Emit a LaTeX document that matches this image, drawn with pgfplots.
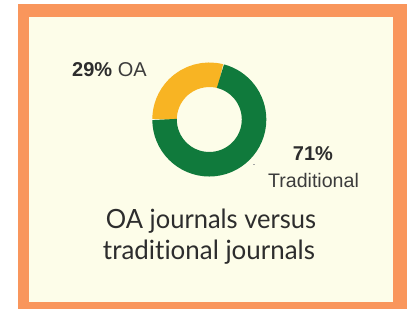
\documentclass[border=0pt]{standalone}
\usepackage{pgfplots}
\pgfplotsset{compat=1.18}
\usepackage{pgfplotstable}
\usepackage{graphicx}
\usepackage{fontspec}
\setmainfont{Liberation Sans}
\newfontfamily\titlefont[Ligatures=NoCommon]{Lato}

\definecolor{borderorange}{RGB}{249,150,92}
\definecolor{bgcream}{RGB}{253,253,233}
\definecolor{oayellow}{RGB}{248,180,35}
\definecolor{tradgreen}{RGB}{16,122,60}
\definecolor{txt}{RGB}{45,45,45}
\definecolor{txtlight}{RGB}{60,60,60}

\pgfplotstableread{
label value
OA 29
Traditional 71
}\sharetable

\begin{document}
\begin{tikzpicture}
\pgfplotstablegetelem{0}{value}\of\sharetable \let\oashare\pgfplotsretval
\pgfplotstablegetelem{1}{value}\of\sharetable \let\tradshare\pgfplotsretval
\pgfmathsetmacro{\oastart}{180-3.6*\oashare}
\pgfmathsetmacro{\tradend}{180+3.6*\tradshare}
\pgfmathsetmacro{\cx}{209.3}
\pgfmathsetmacro{\cy}{189.5}
\pgfmathsetmacro{\rmid}{44.75}
\pgfmathsetmacro{\ax}{\cx+\rmid*cos(\oastart)}
\pgfmathsetmacro{\ay}{\cy+\rmid*sin(\oastart)}
\pgfmathsetmacro{\bx}{\cx-\rmid}
\begin{axis}[x=1pt,y=1pt,xmin=0,xmax=407,ymin=0,ymax=309,
  scale only axis, hide axis, clip=false, anchor=south west, at={(0,0)}]
\fill[white] (axis cs:0,0) rectangle (axis cs:407,309);
\fill[borderorange] (axis cs:17.5,0) rectangle (axis cs:407,305);
\fill[bgcream] (axis cs:28.5,6.7) rectangle (axis cs:392.7,292.3);
% donut ring built from the share table
\draw[oayellow, line width=24.5pt] (axis cs:\ax,\ay) arc[start angle=\oastart, end angle=180, radius=\rmid pt];
\draw[tradgreen, line width=24.5pt] (axis cs:\bx,\cy) arc[start angle=180, end angle=\tradend, radius=\rmid pt];
\draw[gray!70, line width=0.6pt] (axis cs:253,145) -- (axis cs:255,145);
% labels
\node[anchor=base west, inner sep=0, text=txt, font=\fontsize{20}{24}\selectfont]
  at (axis cs:72,233) {\textbf{29\%} \textcolor{txtlight}{OA}};
\node[anchor=base, inner sep=0, text=txt, font=\fontsize{20}{24}\selectfont\bfseries]
  at (axis cs:313,149) {71\%};
\node[anchor=base, inner sep=0, text=txtlight, font=\fontsize{19.6}{24}\selectfont]
  at (axis cs:313.5,122) {Traditional};
% title
\node[anchor=base, inner sep=0, text=txt]
  at (axis cs:211,80.7) {\resizebox{210pt}{\height}{\titlefont\fontsize{26.5}{30}\selectfont OA journals versus}};
\node[anchor=base, inner sep=0, text=txt]
  at (axis cs:209,50) {\resizebox{212pt}{\height}{\titlefont\fontsize{26.5}{30}\selectfont traditional journals}};
\end{axis}
\end{tikzpicture}
\end{document}
